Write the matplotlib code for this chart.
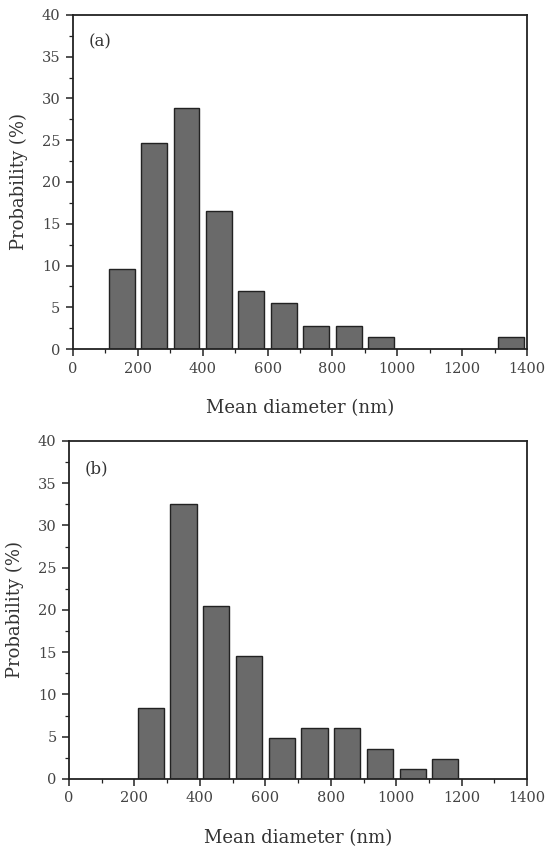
import numpy as np
import matplotlib
matplotlib.use("Agg")
import matplotlib.pyplot as plt
from matplotlib.ticker import MultipleLocator

plt.rcParams['font.family'] = ['DejaVu Serif']

# bin centres (nm) and probabilities (%)
centers_a = [150, 250, 350, 450, 550, 650, 750, 850, 950, 1350]
prob_a = [9.6, 24.7, 28.8, 16.5, 6.9, 5.5, 2.8, 2.8, 1.4, 1.4]

centers_b = [250, 350, 450, 550, 650, 750, 850, 950, 1050, 1150]
prob_b = [8.4, 32.5, 20.5, 14.5, 4.8, 6.0, 6.0, 3.6, 1.2, 2.4]

xticks = [0, 200, 400, 600, 800, 1000, 1200, 1400]
yticks = [0, 5, 10, 15, 20, 25, 30, 35, 40]

fig = plt.figure(figsize=(5.5, 8.48), dpi=100)
ax1 = fig.add_axes([0.1327, 0.5884, 0.8255, 0.394])
ax2 = fig.add_axes([0.1255, 0.0814, 0.833, 0.3986])

for ax, c, p, tag in [(ax1, centers_a, prob_a, '(a)'), (ax2, centers_b, prob_b, '(b)')]:
    ax.bar(c, p, width=80, color='#6a6a6a', edgecolor='#222222', linewidth=1.0)
    ax.set_xlim(0, 1400)
    ax.set_ylim(0, 40)
    ax.set_xticks(xticks)
    ax.set_yticks(yticks)
    ax.xaxis.set_minor_locator(MultipleLocator(100))
    ax.yaxis.set_minor_locator(MultipleLocator(2.5))
    ax.tick_params(which='both', direction='out', top=False, right=False,
                   labelsize=10.5, colors='#222222', labelcolor='#444444')
    ax.tick_params(which='major', length=5, width=1.1, pad=4)
    ax.tick_params(which='minor', length=3, width=0.9)
    for s in ax.spines.values():
        s.set_linewidth(1.3)
        s.set_color('#222222')
    ax.set_xlabel('Mean diameter (nm)', fontsize=13, labelpad=17, color='#333333')
    ax.set_ylabel('Probability (%)', fontsize=13, labelpad=10, color='#333333')
    ax.text(0.035, 0.905, tag, transform=ax.transAxes, fontsize=12, color='#333333')

fig.savefig('out.png', dpi=100)
